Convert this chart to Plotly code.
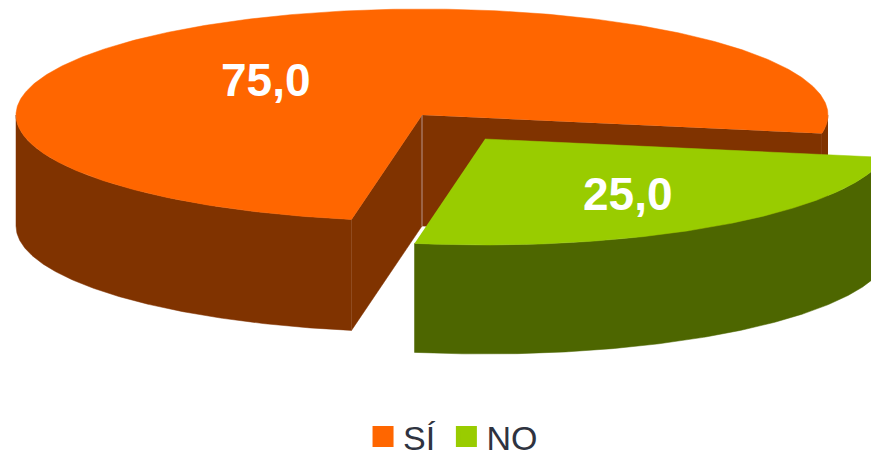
import numpy as np
import plotly.graph_objects as go

# ---- data ----
categories = ["SÍ", "NO"]
values = [75.0, 25.0]

# ---- style ----
top_colors = ["#ff6600", "#99cc00"]
side_colors = ["#803300", "#4d6600"]
text_dark = "#2f3340"

# ---- projection of the pie disc onto the page ----
CX, CY = 422, 115      # hub of the disc
RX, RY = 406, 106      # disc half axes
DEPTH = 111            # extruded height
EXPLODE = (63, 24)     # pull-out of the second slice
T0 = 10                # page angle of the first slice boundary
PAGE_H = 451           # visible page height
FIG_H = 471            # figure height; the extra room keeps the legend box whole


def rim(theta, dx=0, dy=0):
    t = np.radians(T0 + np.asarray(theta, dtype=float))
    return CX + dx + RX * np.cos(t), CY + dy + RY * np.sin(t)


def sweep(a, b, n=240):
    return np.linspace(a, b, n)


total = sum(values)
no_span = values[1] / total * 360       # slice NO runs clockwise from 0
si_span = values[0] / total * 360       # slice SÍ takes the rest

fig = go.Figure()


def poly(xs, ys, color):
    fig.add_trace(go.Scatter(
        x=list(xs), y=list(ys), mode="lines", fill="toself",
        fillcolor=color, line=dict(color=color, width=0.5),
        hoverinfo="skip", showlegend=False))


# --- SÍ slice ---
si_a = no_span
si_b = no_span + si_span
# outer wall (only the part facing the viewer)
th = sweep(si_a, 180 - T0)
x, y = rim(th)
poly(np.r_[x, x[::-1]], np.r_[y, y[::-1] + DEPTH], side_colors[0])
# small piece of outer wall at the right end of the slice
th = sweep(si_b - T0, si_b)
x, y = rim(th)
poly(np.r_[x, x[::-1]], np.r_[y, y[::-1] + DEPTH], side_colors[0])
# inner wall at the start of the slice
xa, ya = rim(si_a)
poly([CX, xa, xa, CX], [CY, ya, ya + DEPTH, CY + DEPTH], side_colors[0])
# inner wall at the end of the slice
xb, yb = rim(si_b)
poly([CX, xb, xb, CX], [CY, yb, yb + DEPTH, CY + DEPTH], side_colors[0])
# the pale edge where both inner walls meet
fig.add_trace(go.Scatter(x=[CX, CX], y=[CY, CY + DEPTH], mode="lines",
                         line=dict(color="#b8948a", width=1),
                         hoverinfo="skip", showlegend=False))
# top
th = sweep(si_a, si_b, 480)
x, y = rim(th)
poly(np.r_[CX, x], np.r_[CY, y], top_colors[0])

# --- NO slice (pulled out) ---
dx, dy = EXPLODE
th = sweep(0, no_span)
x, y = rim(th, dx, dy)
poly(np.r_[x, x[::-1]], np.r_[y, y[::-1] + DEPTH - 2], side_colors[1])
poly(np.r_[CX + dx, x], np.r_[CY + dy, y], top_colors[1])

# --- legend entries (one legend per item, so the gap can be set) ---
for name, color, lg in zip(categories, top_colors, ["legend", "legend2"]):
    fig.add_trace(go.Scatter(
        x=[None], y=[None], mode="markers", name=name, legend=lg,
        showlegend=True,
        marker=dict(symbol="square", size=16, color=color,
                    line=dict(color=color, width=5))))


def fmt(v):
    return f"{v:.1f}".replace(".", ",")


annotations = [
    dict(x=266, y=80, text=f"<b>{fmt(values[0])}</b>"),
    dict(x=628, y=194, text=f"<b>{fmt(values[1])}</b>"),
]
for a in annotations:
    a.update(xref="x", yref="y", showarrow=False,
             font=dict(family="Liberation Sans", size=46, color="white"))

legend_common = dict(orientation="h", xref="container", yref="container",
                     xanchor="left", y=1 - 437 / FIG_H, yanchor="middle",
                     itemwidth=30,
                     font=dict(family="Liberation Sans", size=34,
                               color=text_dark),
                     bgcolor="rgba(0,0,0,0)")

fig.update_layout(
    width=871, height=FIG_H,
    margin=dict(l=0, r=0, t=0, b=FIG_H - PAGE_H, autoexpand=False),
    paper_bgcolor="white", plot_bgcolor="white",
    xaxis=dict(range=[0, 871], visible=False, fixedrange=True),
    yaxis=dict(range=[PAGE_H, 0], visible=False, fixedrange=True),
    annotations=annotations,
    legend=dict(x=0.4168, **legend_common),
    legend2=dict(x=0.5125, **legend_common),
)

fig.write_html(
    "out.html",
    post_script="document.body.style.margin='0';"
                "document.body.style.overflow='hidden';"
                "document.documentElement.style.overflow='hidden';",
    config=dict(displayModeBar=False))
